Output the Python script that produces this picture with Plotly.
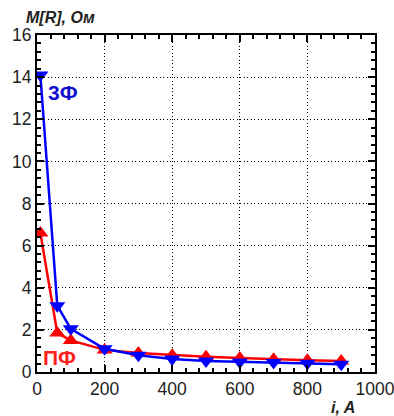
import plotly.graph_objects as go

x_pf = [10, 60, 100, 200, 300, 400, 500, 600, 700, 800, 900]
r_pf = [6.6, 1.85, 1.5, 1.05, 0.9, 0.8, 0.72, 0.66, 0.6, 0.56, 0.52]
x_3f = [10, 60, 100, 200, 300, 400, 500, 600, 700, 800, 900]
r_3f = [14.1, 3.15, 2.05, 1.1, 0.8, 0.62, 0.52, 0.48, 0.45, 0.42, 0.37]

x_ticks = [0, 200, 400, 600, 800, 1000]
y_ticks = [0, 2, 4, 6, 8, 10, 12, 14, 16]

FONT = "Liberation Sans, Arial, sans-serif"

fig = go.Figure()
fig.add_trace(go.Scatter(x=x_pf, y=r_pf, mode="lines+markers",
                         line=dict(color="#ff0000", width=2.5),
                         marker=dict(symbol="triangle-up", size=14, color="#ff0000"),
                         showlegend=False))
fig.add_trace(go.Scatter(x=x_3f, y=r_3f, mode="lines+markers",
                         line=dict(color="#0000ff", width=2.5),
                         marker=dict(symbol="triangle-down", size=14, color="#0000ff"),
                         showlegend=False))

axis_common = dict(
    showline=True, linecolor="black", linewidth=2, mirror="ticks",
    ticks="inside", ticklen=7, tickwidth=1.5, tickcolor="black",
    showgrid=True, gridcolor="black", griddash="1px,2.5px", gridwidth=1,
    zeroline=False, automargin=False, ticklabeloverflow="allow",
    tickfont=dict(family=FONT, size=17.5, color="#222"),
)

fig.update_xaxes(range=[0, 1000], tickvals=x_ticks,
                 minor=dict(dtick=40, ticks="inside", ticklen=4, tickcolor="black", showgrid=False),
                 **axis_common)
fig.update_yaxes(range=[0, 16], tickvals=y_ticks,
                 minor=dict(dtick=0.4, ticks="inside", ticklen=4, tickcolor="black", showgrid=False),
                 **axis_common)

fig.add_annotation(text="<b><i>M[R], Ом</i></b>", xref="paper", yref="paper",
                   x=-0.037, y=1.052, xanchor="left", yanchor="middle", showarrow=False,
                   font=dict(family=FONT, size=16, color="#222"))
fig.add_annotation(text="<b><i>i, A</i></b>", xref="paper", yref="paper",
                   x=0.905, y=-0.105, xanchor="center", yanchor="middle", showarrow=False,
                   font=dict(family=FONT, size=16, color="#222"))
fig.add_annotation(text="<b>3Ф</b>", x=78, y=13.25, showarrow=False,
                   font=dict(family=FONT, size=21, color="#1010d0"))
fig.add_annotation(text="<b>ПФ</b>", x=66, y=0.7, showarrow=False,
                   font=dict(family=FONT, size=21, color="#ff2020"))

fig.update_layout(width=394, height=416, margin=dict(l=37, r=19, t=35, b=44, autoexpand=False),
                  plot_bgcolor="white", paper_bgcolor="white")

fig.write_html("out.html", config={"displayModeBar": False},
               post_script="document.body.style.margin='0';document.body.style.overflow='hidden';")
